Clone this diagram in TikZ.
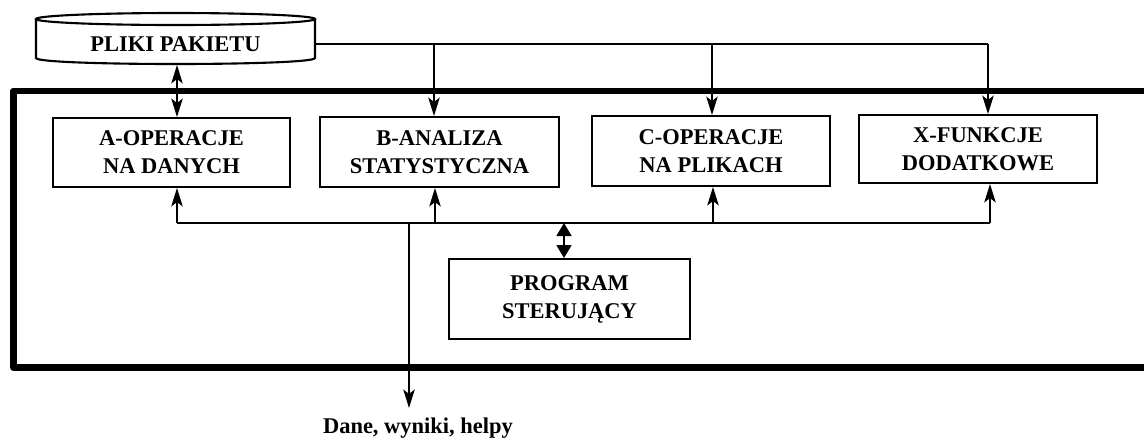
\documentclass[tikz,border=0pt]{standalone}
\usepackage{fontspec}
\setmainfont{Liberation Serif}
\usetikzlibrary{arrows.meta}

\begin{document}
\begin{tikzpicture}[x=0.02cm, y=-0.02cm,
  box/.style={draw, line width=1.1pt, align=center, inner sep=0pt,
    font=\bfseries\fontsize{12.8}{16}\selectfont},
  arr/.style={line width=1pt, -{Stealth[length=10.5pt, width=6.5pt, inset=2.5pt]}},
  darr/.style={line width=1pt, {Stealth[length=10.5pt, width=6.5pt, inset=2.5pt]}-{Stealth[length=10.5pt, width=6.5pt, inset=2.5pt]}},
  parr/.style={line width=1pt, {Triangle[length=7.4pt, width=8.5pt]}-{Triangle[length=7.4pt, width=8.5pt]}}]
\useasboundingbox (0,0) rectangle (1144,437);

% Frame
\draw[line width=0.135cm, line join=round] (1160,91) -- (13.5,91) -- (13.5,367.5) -- (1160,367.5);

% Nodes
\node[box, draw=none, minimum width=5.58cm, minimum height=0.8cm] (pliki) at (175.5,44) {PLIKI PAKIETU};
\node[box, minimum width=4.74cm, minimum height=1.38cm] (A) at (171.5,152.5) {A-OPERACJE\\NA DANYCH};
\node[box, minimum width=4.78cm, minimum height=1.40cm] (B) at (439.5,152) {B-ANALIZA\\STATYSTYCZNA};
\node[box, minimum width=4.76cm, minimum height=1.40cm] (C) at (711,151) {C-OPERACJE\\NA PLIKACH};
\node[box, minimum width=4.76cm, minimum height=1.36cm] (X) at (978,149) {X-FUNKCJE\\DODATKOWE};
\node[box, minimum width=4.82cm, minimum height=1.60cm] (P) at (569.5,299) {PROGRAM\\STERUJĄCY};
\node[font=\bfseries\fontsize{12.8}{16}\selectfont] (dane) at (418,428) {Dane, wyniki, helpy};

% Drum of the package files
\draw[line width=1.2pt] (175.5,19) ellipse [x radius=139.5, y radius=6];
\draw[line width=1.2pt] (36,19) -- (36,58) .. controls (36,66) and (315,66) .. (315,58) -- (315,19);

% Top distribution line
\coordinate (tB) at (434,44);
\coordinate (tC) at (712,44);
\coordinate (tX) at (988,44);
\draw[line width=1pt] (pliki.east) -- (tX);
\draw[arr] (tB) -- (tB |- B.north);
\draw[arr] (tC) -- (tC |- C.north);
\draw[arr] (tX) -- (tX |- X.north);
\draw[darr] (pliki.south -| A.north) ++(5.5,0) coordinate (pA) -- (pA |- A.north);

% Bus
\coordinate (bA) at (177,223);
\coordinate (bB) at (435,223);
\coordinate (bC) at (713,223);
\coordinate (bX) at (990,223);
\coordinate (bO) at (409,223);
\coordinate (bP) at (564,223);
\coordinate (out) at (409,408);
\draw[line width=1pt] (bA) -- (bX);
\draw[arr] (bA) -- (bA |- A.south);
\draw[arr] (bB) -- (bB |- B.south);
\draw[arr] (bC) -- (bC |- C.south);
\draw[arr] (bX) -- (bX |- X.south);
\draw[parr] (bP) -- (bP |- P.north);
\draw[arr] (bO) -- (out);

\end{tikzpicture}
\end{document}
